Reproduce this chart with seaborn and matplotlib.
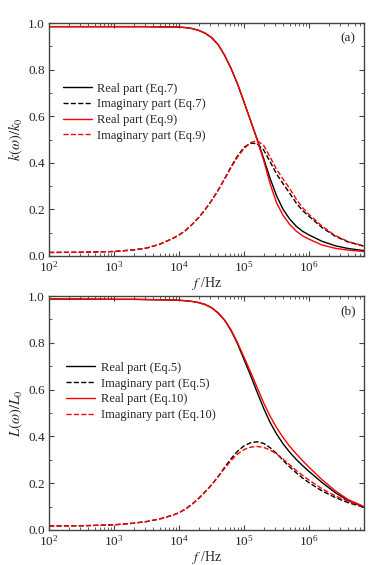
import numpy as np
import pandas as pd
import matplotlib
matplotlib.use('Agg')
import matplotlib.pyplot as plt
import seaborn as sns
from matplotlib.ticker import MultipleLocator, LogLocator, NullFormatter

# Frequency grid (Hz), read at 0.1-decade steps off the reference
freq = [1e2, 3.16e2, 1e3, 2e3, 3.16e3, 5.01e3, 7.94e3,
        1e4, 1.26e4, 1.58e4, 2e4, 2.51e4, 3.16e4, 3.98e4, 5.01e4, 6.31e4, 7.94e4,
        1e5, 1.26e5, 1.58e5, 2e5, 2.51e5, 3.16e5, 3.98e5, 5.01e5, 6.31e5, 7.94e5,
        1e6, 1.58e6, 2.51e6, 3.98e6, 7e6]

# (a) k(w)/k0
k7_re = [0.985, 0.985, 0.985, 0.985, 0.985, 0.984, 0.984,
         0.983, 0.981, 0.977, 0.969, 0.957, 0.938, 0.908, 0.862, 0.805, 0.738,
         0.660, 0.580, 0.503, 0.418, 0.333, 0.258, 0.200, 0.159, 0.128, 0.106,
         0.090, 0.063, 0.044, 0.032, 0.023]
k7_im = [0.015, 0.016, 0.019, 0.026, 0.034, 0.050, 0.075,
         0.090, 0.110, 0.135, 0.165, 0.199, 0.238, 0.282, 0.332, 0.384, 0.430,
         0.467, 0.485, 0.482, 0.455, 0.405, 0.352, 0.310, 0.270, 0.228, 0.195,
         0.170, 0.122, 0.085, 0.060, 0.042]
k9_re = [0.985, 0.985, 0.985, 0.985, 0.985, 0.984, 0.984,
         0.983, 0.981, 0.977, 0.969, 0.957, 0.938, 0.908, 0.862, 0.805, 0.738,
         0.660, 0.580, 0.500, 0.410, 0.310, 0.228, 0.174, 0.136, 0.107, 0.086,
         0.072, 0.047, 0.033, 0.025, 0.019]
k9_im = [0.015, 0.016, 0.019, 0.026, 0.034, 0.050, 0.075,
         0.090, 0.110, 0.135, 0.165, 0.199, 0.238, 0.282, 0.330, 0.380, 0.425,
         0.462, 0.487, 0.495, 0.475, 0.425, 0.372, 0.330, 0.290, 0.245, 0.207,
         0.178, 0.128, 0.088, 0.062, 0.043]

# (b) L(w)/L0
L5_re = [0.987, 0.987, 0.986, 0.986, 0.985, 0.984, 0.983,
         0.982, 0.980, 0.977, 0.972, 0.964, 0.950, 0.928, 0.897, 0.852, 0.795,
         0.728, 0.660, 0.590, 0.520, 0.460, 0.410, 0.368, 0.333, 0.302, 0.275,
         0.250, 0.203, 0.160, 0.126, 0.098]
L5_im = [0.017, 0.018, 0.022, 0.029, 0.036, 0.047, 0.063,
         0.074, 0.090, 0.110, 0.135, 0.163, 0.193, 0.228, 0.268, 0.305, 0.337,
         0.360, 0.373, 0.377, 0.370, 0.352, 0.327, 0.298, 0.270, 0.245, 0.222,
         0.202, 0.167, 0.139, 0.117, 0.097]
L10_re = [0.987, 0.987, 0.986, 0.986, 0.985, 0.984, 0.983,
          0.982, 0.980, 0.977, 0.972, 0.964, 0.950, 0.928, 0.897, 0.855, 0.800,
          0.738, 0.675, 0.610, 0.543, 0.487, 0.437, 0.395, 0.358, 0.326, 0.296,
          0.268, 0.215, 0.168, 0.130, 0.100]
L10_im = [0.017, 0.018, 0.022, 0.029, 0.036, 0.047, 0.063,
          0.074, 0.090, 0.110, 0.135, 0.163, 0.193, 0.228, 0.263, 0.297, 0.325,
          0.344, 0.354, 0.357, 0.353, 0.342, 0.325, 0.303, 0.279, 0.255, 0.233,
          0.213, 0.176, 0.146, 0.123, 0.100]

sns.set_style('ticks')
plt.rcParams['font.family'] = ['Liberation Serif', 'DejaVu Serif']
plt.rcParams['mathtext.fontset'] = 'stix'

fig = plt.figure(figsize=(3.84, 5.65), dpi=100)
ax_a = fig.add_axes([0.128, 0.547, 0.820, 0.412])
ax_b = fig.add_axes([0.128, 0.062, 0.820, 0.414])

panels = [
    (ax_a, [(k7_re, 'black', '-', 'Real part (Eq.7)'),
            (k7_im, 'black', '--', 'Imaginary part (Eq.7)'),
            (k9_re, 'red', '-', 'Real part (Eq.9)'),
            (k9_im, 'red', '--', 'Imaginary part (Eq.9)')],
     r'$k(\omega)/k_0$', '(a)', (0.044, 0.745), 0.4),
    (ax_b, [(L5_re, 'black', '-', 'Real part (Eq.5)'),
            (L5_im, 'black', '--', 'Imaginary part (Eq.5)'),
            (L10_re, 'red', '-', 'Real part (Eq.10)'),
            (L10_im, 'red', '--', 'Imaginary part (Eq.10)')],
     r'$L(\omega)/L_0$', '(b)', (0.053, 0.719), 0.55),
]

frame_col = '#444444'
for ax, series, ylab, tag, leg_pos, txtpad in panels:
    for vals, col, ls, lab in series:
        sns.lineplot(x=freq, y=vals, ax=ax, color=col, linestyle=ls,
                     linewidth=1.0, label=lab)
    ax.set_xscale('log')
    ax.set_xlim(1e2, 7e6)
    ax.set_ylim(0, 1.0)
    ax.yaxis.set_major_locator(MultipleLocator(0.2))
    ax.yaxis.set_minor_locator(MultipleLocator(0.1))
    ax.yaxis.set_major_formatter(plt.FormatStrFormatter('%.1f'))
    ax.xaxis.set_major_locator(LogLocator(base=10, numticks=10))
    ax.xaxis.set_minor_locator(LogLocator(base=10, subs=np.arange(2, 10), numticks=50))
    ax.xaxis.set_minor_formatter(NullFormatter())
    ax.tick_params(which='both', direction='in', top=True, right=True,
                   color=frame_col, labelsize=9.5, pad=3)
    ax.tick_params(which='major', length=3.5, width=0.8)
    ax.tick_params(which='minor', length=2, width=0.6)
    for sp in ax.spines.values():
        sp.set_color(frame_col)
        sp.set_linewidth(1.0)
    ax.set_xlabel(r'$f$ /Hz', fontsize=10, labelpad=0)
    ax.set_ylabel(ylab, fontsize=10.5, labelpad=2)
    ax.text(0.95, 0.935, tag, transform=ax.transAxes, ha='center', va='center',
            fontsize=9.5)
    ax.legend(loc='upper left', bbox_to_anchor=leg_pos, frameon=False,
              fontsize=9, handlelength=2.3, handletextpad=txtpad,
              labelspacing=0.3, borderpad=0, borderaxespad=0)

fig.savefig('out.png', dpi=100)
